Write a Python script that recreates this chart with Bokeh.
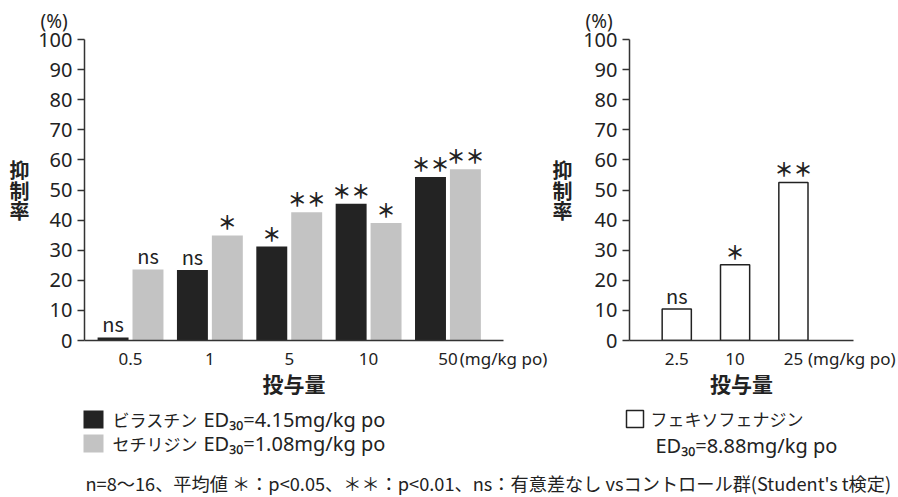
from bokeh.plotting import figure
from bokeh.models import Range1d, FixedTicker, ColumnDataSource, LabelSet, LinearAxis
from bokeh.layouts import column, row
from bokeh.embed import file_html
from bokeh.resources import INLINE
from bokeh.core.properties import value, field

# ---- data ----
doses_left = ["0.5", "1", "5", "10", "50"]
bilastine = [1.0, 23.4, 31.2, 45.4, 54.3]
cetirizine = [23.6, 34.9, 42.6, 39.0, 56.9]
bilastine_sig = ["ns", "ns", "＊", "＊＊", "＊＊"]
cetirizine_sig = ["ns", "＊", "＊＊", "＊", "＊＊"]

doses_right = ["2.5", "10", "25"]
fexofenadine = [10.5, 25.2, 52.5]
fexofenadine_sig = ["ns", "＊", "＊＊"]

y_ticks = [0, 10, 20, 30, 40, 50, 60, 70, 80, 90, 100]
unit_text = "(mg/kg po)"
y_title = "抑\n制\n率"
x_title = "投与量"

series_names = ["ビラスチン", "セチリジン", "フェキソフェナジン"]
ed30_texts = ["ED₃₀=4.15mg/kg po", "ED₃₀=1.08mg/kg po", "ED₃₀=8.88mg/kg po"]
series_colors = ["#232323", "#c3c3c3", "#ffffff"]
footnote = "n=8～16、平均値 ＊：p<0.05、＊＊：p<0.01、ns：有意差なし vsコントロール群(Student's t検定)"

JP = "Noto Sans CJK JP"
LAT = "Noto Sans"
AX = "#333333"
TXT = "#222222"


def style(p, doses, unit_pos, ylab_standoff):
    p.xgrid.visible = False
    p.ygrid.visible = False
    p.outline_line_color = None
    p.background_fill_color = "white"
    p.border_fill_color = "white"
    # "(%)" above the value axis
    p.title.text = "(%)"
    p.title.align = "left"
    p.title.offset = -44
    p.title.standoff = 11
    p.title.text_font = LAT
    p.title.text_font_size = "19px"
    p.title.text_font_style = "normal"
    p.title.text_color = TXT
    for ax in (p.xaxis[0], p.yaxis[0]):
        ax.axis_line_color = AX
        ax.axis_line_width = 1.5
        ax.minor_tick_line_color = None
        ax.major_label_text_color = TXT
    ya = p.yaxis[0]
    ya.ticker = FixedTicker(ticks=y_ticks)
    ya.major_tick_line_color = AX
    ya.major_tick_line_width = 1.5
    ya.major_tick_out = 7
    ya.major_tick_in = 0
    ya.major_label_text_font = LAT
    ya.major_label_text_font_size = "20px"
    ya.major_label_standoff = 5
    xa = p.xaxis[0]
    n = len(doses)
    xa.ticker = FixedTicker(ticks=list(range(n)) + [unit_pos])
    overrides = {i: d for i, d in enumerate(doses)}
    overrides[unit_pos] = unit_text
    xa.major_label_overrides = overrides
    xa.major_tick_line_color = None
    xa.major_tick_out = 0
    xa.major_label_text_font = LAT
    xa.major_label_text_font_size = "17px"
    xa.major_label_standoff = 6
    xa.axis_label = x_title
    xa.axis_label_text_font = JP
    xa.axis_label_text_font_size = "21px"
    xa.axis_label_text_font_style = "bold"
    xa.axis_label_text_color = TXT
    xa.axis_label_standoff = -5
    # stacked vertical title left of the value axis
    p.add_layout(LinearAxis(ticker=FixedTicker(ticks=[50]), major_label_overrides={50: y_title},
                            axis_line_color=None, major_tick_line_color=None,
                            minor_tick_line_color=None, major_tick_out=0, major_tick_in=0,
                            major_label_standoff=ylab_standoff,
                            major_label_text_font=JP, major_label_text_font_size="20px",
                            major_label_text_font_style="bold", major_label_text_color=TXT,
                            major_label_text_line_height=0.72), "left")


def sig_labels(p, xs, tops, texts):
    star = ["＊" in t for t in texts]
    src = ColumnDataSource(dict(
        x=xs, y=tops, t=texts,
        st=["bold" if s else "normal" for s in star],
        fs=["19px" if s else "20px" for s in star]))
    p.add_layout(LabelSet(x="x", y="y", text="t", source=src, text_align="center",
                          text_baseline="alphabetic", y_offset=5, text_font=value(JP),
                          text_font_size=field("fs"), text_font_style=field("st"),
                          text_color=value(TXT)))


# ---- left panel ----
idx_l = list(range(len(doses_left)))
p1 = figure(width=549, height=400, x_range=Range1d(-0.58, 4.70), y_range=Range1d(0, 100),
            min_border_left=84, min_border_right=46, min_border_top=39, min_border_bottom=59,
            output_backend="svg", toolbar_location=None)
style(p1, doses_left, 4.70, 6)
xb = [i - 0.22 for i in idx_l]
xc = [i + 0.22 for i in idx_l]
p1.vbar(x=xb, top=bilastine, width=0.39, fill_color=series_colors[0], line_color=None)
p1.vbar(x=xc, top=cetirizine, width=0.39, fill_color=series_colors[1], line_color=None)
sig_labels(p1, xb, bilastine, bilastine_sig)
sig_labels(p1, xc, cetirizine, cetirizine_sig)

# ---- right panel ----
idx_r = list(range(len(doses_right)))
p2 = figure(width=349, height=400, x_range=Range1d(-0.81, 3.03), y_range=Range1d(0, 100),
            min_border_left=77, min_border_right=45, min_border_top=39, min_border_bottom=59,
            output_backend="svg", toolbar_location=None)
style(p2, doses_right, 3.0, 8)
p2.vbar(x=idx_r, top=fexofenadine, width=0.5, fill_color=series_colors[2],
        line_color=TXT, line_width=1.5)
sig_labels(p2, idx_r, fexofenadine, fexofenadine_sig)

# ---- legend / footnote panel ----
p3 = figure(width=898, height=97, x_range=Range1d(0, 898), y_range=Range1d(0, 97),
            min_border=0, min_border_left=0, min_border_right=0, min_border_top=0,
            min_border_bottom=0, output_backend="svg", toolbar_location=None)
p3.xaxis.visible = False
p3.yaxis.visible = False
p3.xgrid.visible = False
p3.ygrid.visible = False
p3.outline_line_color = None
p3.rect(x=[93, 93], y=[78, 54], width=20, height=18, fill_color=series_colors[:2], line_color=None)
p3.rect(x=[634.5], y=[78.5], width=17, height=17, fill_color=series_colors[2],
        line_color=TXT, line_width=1.5)
p3.text(x=[112, 112, 650], y=[78, 54, 79], text=series_names, text_font=value(JP),
        text_font_size="17px", text_baseline="middle", text_color=TXT)
p3.text(x=[203, 203, 655], y=[78, 54, 52], text=ed30_texts, text_font=value(LAT),
        text_font_size="20px", text_baseline="middle", text_color=TXT)
p3.text(x=[85], y=[15], text=[footnote], text_font=value(JP), text_font_size="18.2px",
        text_baseline="middle", text_color=TXT)

layout = column(row(p1, p2, spacing=0), p3, spacing=0)
open("out.html", "w").write(file_html(layout, INLINE))
